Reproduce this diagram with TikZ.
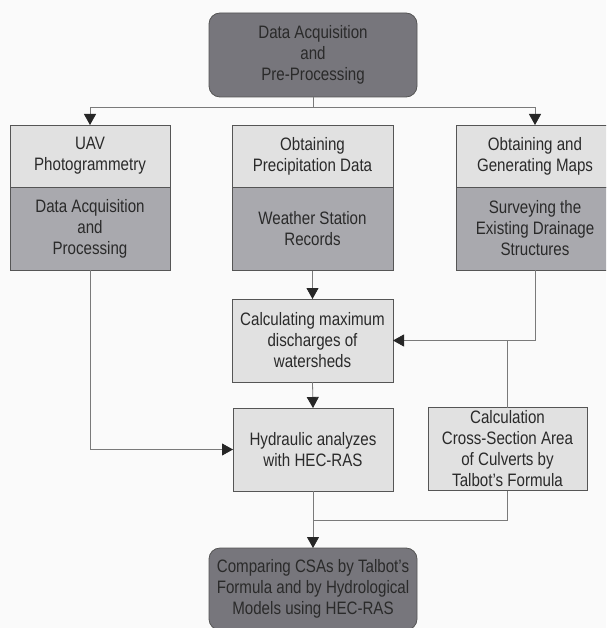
\documentclass[tikz,border=0pt]{standalone}
\usepackage{fontspec}
\setmainfont{Liberation Sans}[FakeStretch=0.84]
\usetikzlibrary{arrows.meta}
\definecolor{darkbox}{HTML}{77767C}
\definecolor{lightbox}{HTML}{E1E1E1}
\definecolor{midbox}{HTML}{A9A9AE}
\definecolor{linegray}{HTML}{7A7A7A}
\definecolor{bordergray}{HTML}{555555}
\definecolor{txt}{HTML}{2A2A2A}
\begin{document}
\begin{tikzpicture}[x=1pt,y=-1pt,
  every node/.style={font=\fontsize{18}{21}\selectfont, text=txt, align=center, inner sep=0pt, outer sep=0pt},
  darkrnd/.style={draw=bordergray, fill=darkbox, rounded corners=11pt, minimum width=208pt, line width=0.8pt},
  lbox/.style={draw=bordergray, fill=lightbox, line width=0.8pt, minimum width=160pt},
  mbox/.style={draw=bordergray, fill=midbox, line width=0.8pt, minimum width=160pt},
  conn/.style={draw=linegray, line width=0.8pt},
  arr/.style={conn, -{Triangle[width=12pt,length=11pt,color=black!85]}}
]
\useasboundingbox (0,0) rectangle (606,628);
\clip (0,0) rectangle (606,628);
\fill[white!98!black] (0,0) rectangle (606,628);

% top
\node[darkrnd, minimum height=84pt] (top) at (313,55) {Data Acquisition\\and\\Pre-Processing};
% left column
\node[lbox, minimum height=62pt] (uavT) at (90,156) {UAV\\Photogrammetry};
\node[mbox, minimum height=83pt] (uavB) at (90,228.5) {Data Acquisition\\and\\Processing};
% middle column
\node[lbox, minimum height=62pt, minimum width=161pt] (precT) at (312.5,156) {Obtaining\\Precipitation Data};
\node[mbox, minimum height=83pt, minimum width=161pt] (precB) at (312.5,229) {Weather Station\\Records};
% right column
\node[lbox, minimum height=62pt, minimum width=158pt] (mapT) at (535,156) {Obtaining and\\Generating Maps};
\node[mbox, minimum height=83pt, minimum width=158pt] (mapB) at (535,228.5) {Surveying the\\Existing Drainage\\Structures};
% lower boxes
\node[lbox, minimum height=83pt, minimum width=161pt] (calc) at (312.5,340.5) {Calculating maximum\\discharges of\\watersheds};
\node[lbox, minimum height=83pt] (hyd) at (313,449.5) {Hydraulic analyzes\\with HEC-RAS};
\node[lbox, minimum height=83pt, minimum width=159pt] (tal) at (507.5,449) {Calculation\\Cross-Section Area\\of Culverts by\\Talbot’s Formula};
\node[darkrnd, minimum height=82pt] (fin) at (313,589) {Comparing CSAs by Talbot’s\\Formula and by Hydrological\\Models using HEC-RAS};

% connectors
\coordinate (split) at (313,107);
\coordinate (join) at (313,520);
\draw[conn] (top.south) -- (split);
\draw[arr] (split) -| (uavT.north);
\draw[arr] (split) -| (mapT.north);
\draw[arr] (precB.south) -- (calc.north);
\draw[arr] (mapB.south) |- (calc.east);
\draw[conn] (tal.north) -- (tal.north |- calc.east);
\draw[arr] (calc.south) -- (hyd.north);
\draw[arr] (uavB.south) |- (hyd.west);
\draw[conn] (tal.south) |- (join);
\draw[arr] (hyd.south) -- (fin.north);
\end{tikzpicture}
\end{document}
